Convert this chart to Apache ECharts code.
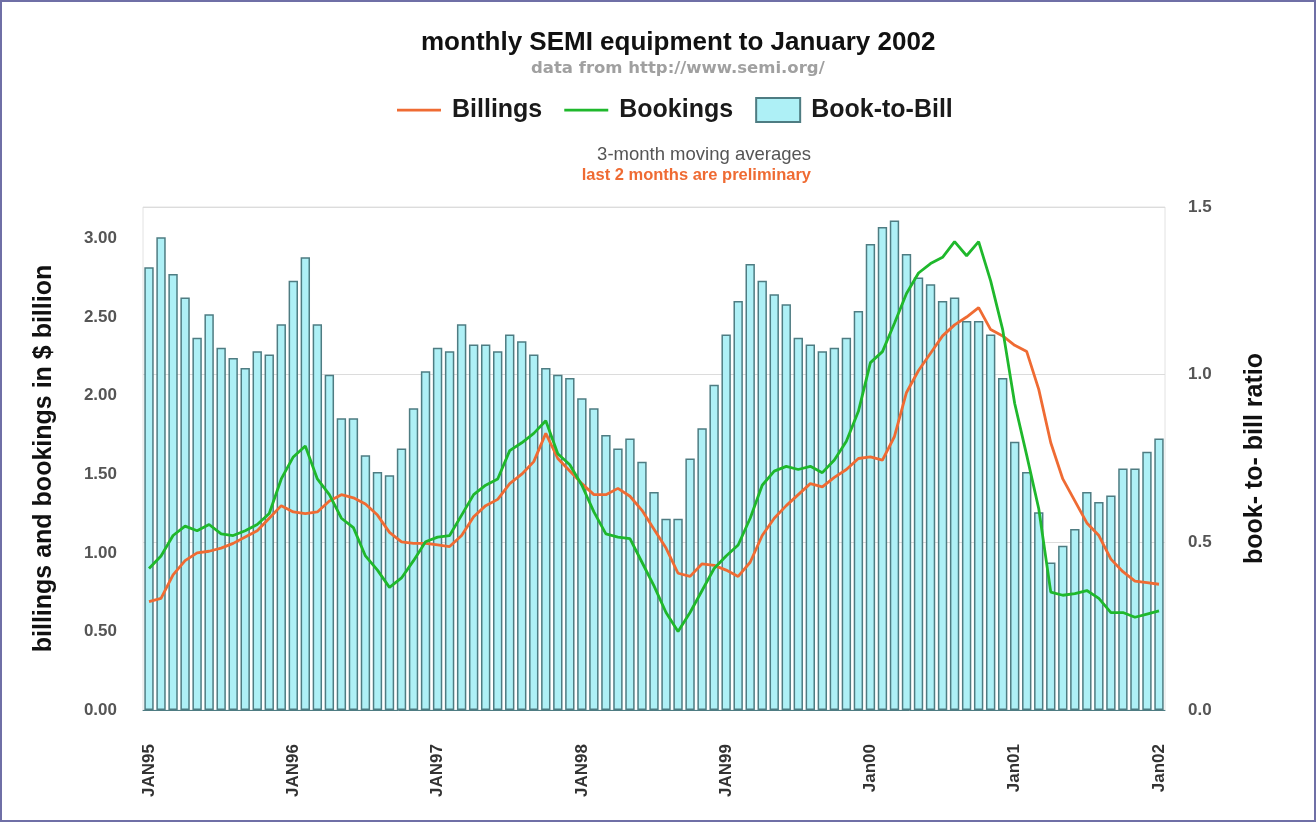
<!DOCTYPE html>
<html>
<head>
<meta charset="utf-8">
<title>monthly SEMI equipment</title>
<script src="https://cdn.jsdelivr.net/npm/echarts/dist/echarts.min.js"></script>
<style>
    html, body {
        margin: 0;
        padding: 0;
        background: #fff;
    }
    #chart {
        width: 1316px;
        height: 822px;
        box-sizing: border-box;
        border: 2px solid #6f6fa6;
    }
</style>
</head>
<body>
<div id="chart"></div>
<script>
// ========================================
// data (3-month moving averages, JAN95 .. Jan02)
// ========================================

const tickLabels = ["JAN95", "JAN96", "JAN97", "JAN98", "JAN99", "Jan00", "Jan01", "Jan02"];

// $ billion
const billings = [
    0.69, 0.71, 0.86, 0.95, 1.00, 1.01, 1.03, 1.06, 1.10, 1.14, 1.22, 1.30,
    1.26, 1.25, 1.26, 1.33, 1.37, 1.35, 1.31, 1.24, 1.13, 1.07, 1.06, 1.06,
    1.05, 1.04, 1.11, 1.23, 1.30, 1.34, 1.44, 1.50, 1.58, 1.76, 1.60, 1.52,
    1.44, 1.37, 1.37, 1.41, 1.36, 1.27, 1.15, 1.03, 0.87, 0.85, 0.93, 0.92,
    0.89, 0.85, 0.94, 1.11, 1.22, 1.30, 1.37, 1.44, 1.42, 1.48, 1.53, 1.60,
    1.61, 1.59, 1.74, 2.02, 2.16, 2.27, 2.38, 2.45, 2.50, 2.56, 2.42, 2.38,
    2.32, 2.28, 2.04, 1.70, 1.47, 1.33, 1.19, 1.11, 0.96, 0.88, 0.82, 0.81,
    0.80
];

const bookings = [
    0.90, 0.98, 1.11, 1.17, 1.14, 1.18, 1.12, 1.11, 1.14, 1.18, 1.25, 1.47,
    1.61, 1.68, 1.47, 1.37, 1.22, 1.16, 0.98, 0.89, 0.78, 0.84, 0.95, 1.07,
    1.10, 1.11, 1.24, 1.37, 1.43, 1.47, 1.65, 1.70, 1.76, 1.84, 1.63, 1.56,
    1.43, 1.26, 1.12, 1.10, 1.09, 0.94, 0.79, 0.62, 0.50, 0.62, 0.76, 0.90,
    0.98, 1.05, 1.22, 1.43, 1.52, 1.55, 1.53, 1.55, 1.51, 1.59, 1.71, 1.90,
    2.21, 2.28, 2.46, 2.65, 2.78, 2.84, 2.88, 2.98, 2.89, 2.98, 2.73, 2.42,
    1.95, 1.62, 1.28, 0.75, 0.73, 0.74, 0.76, 0.71, 0.62, 0.62, 0.59, 0.61,
    0.63
];

// ratio
const bookToBill = [
    1.32, 1.41, 1.30, 1.23, 1.11, 1.18, 1.08, 1.05, 1.02, 1.07, 1.06, 1.15,
    1.28, 1.35, 1.15, 1.00, 0.87, 0.87, 0.76, 0.71, 0.70, 0.78, 0.90, 1.01,
    1.08, 1.07, 1.15, 1.09, 1.09, 1.07, 1.12, 1.10, 1.06, 1.02, 1.00, 0.99,
    0.93, 0.90, 0.82, 0.78, 0.81, 0.74, 0.65, 0.57, 0.57, 0.75, 0.84, 0.97,
    1.12, 1.22, 1.33, 1.28, 1.24, 1.21, 1.11, 1.09, 1.07, 1.08, 1.11, 1.19,
    1.39, 1.44, 1.46, 1.36, 1.29, 1.27, 1.22, 1.23, 1.16, 1.16, 1.12, 0.99,
    0.80, 0.71, 0.59, 0.44, 0.49, 0.54, 0.65, 0.62, 0.64, 0.72, 0.72, 0.77,
    0.81
];

// ========================================
// month categories (label only on January)
// ========================================

function buildMonths() {
    let out = [];
    for (let i = 0; i < bookToBill.length; i++) {
        if (i % 12 === 0) {
            out.push(tickLabels[i / 12]);
        } else {
            let y = 1995 + Math.floor(i / 12);
            out.push(y + "-" + (i % 12 + 1));
        }
    }
    return out;
}

const months = buildMonths();

const narrow = '"Liberation Sans Narrow", "Liberation Sans", Arial, sans-serif';
const sans = '"Liberation Sans", Arial, sans-serif';

// thin horizontal stroke for the line legend (tiny corner dots keep the box size)
const lineIcon = "path://M0,0h0.01v0.01h-0.01z M0,10.8h44v2.6h-44z M43.99,24h0.01v0.01h-0.01z";

// ========================================
// chart
// ========================================

const chart = echarts.init(document.getElementById("chart"));

chart.setOption({
    animation: false,
    backgroundColor: "#fff",
    title: [{
        text: "monthly SEMI equipment to January 2002",
        left: 414,
        top: 23,
        textStyle: { fontFamily: sans, fontSize: 26, fontWeight: "bold", color: "#111" }
    }, {
        text: "data from http://www.semi.org/",
        left: 524,
        top: 53,
        textStyle: { fontFamily: '"DejaVu Sans", sans-serif', fontSize: 16.5, fontWeight: "bold", color: "#a0a0a0" }
    }, {
        text: "3-month moving averages",
        right: 498,
        top: 138,
        textStyle: { fontFamily: sans, fontSize: 18.5, fontWeight: "normal", color: "#555" }
    }, {
        text: "last 2 months are preliminary",
        right: 498,
        top: 160,
        textStyle: { fontFamily: sans, fontSize: 16.5, fontWeight: "bold", color: "#ef6b33" }
    }],
    legend: {
        left: 390,
        top: 90,
        itemGap: 22,
        itemWidth: 44,
        itemHeight: 24,
        textStyle: {
            fontFamily: sans,
            fontSize: 25,
            fontWeight: "bold",
            color: "#1a1a1a",
            padding: [0, 0, 0, 6]
        },
        data: [
            { name: "Billings", icon: lineIcon },
            { name: "Bookings", icon: lineIcon },
            { name: "Book-to-Bill", icon: "rect" }
        ]
    },
    grid: {
        left: 141,
        right: 149,
        top: 205,
        bottom: 110,
        show: true,
        borderColor: "#e2e2e2",
        borderWidth: 1
    },
    xAxis: {
        type: "category",
        data: months,
        boundaryGap: true,
        axisLine: { lineStyle: { color: "#4e7c82" } },
        axisTick: { show: false },
        axisLabel: {
            interval: (i) => i % 12 === 0,
            rotate: 90,
            margin: 34,
            fontFamily: narrow,
            fontSize: 17,
            fontWeight: "bold",
            color: "#333"
        }
    },
    yAxis: [{
        type: "value",
        min: 0,
        max: 3.2,
        interval: 0.5,
        name: "billings and bookings in $ billion",
        nameLocation: "middle",
        nameGap: 86,
        nameTextStyle: { fontFamily: sans, fontSize: 25, fontWeight: "bold", color: "#111" },
        axisLine: { show: false },
        axisTick: { show: false },
        splitLine: { show: false },
        axisLabel: {
            showMaxLabel: false,
            margin: 26,
            fontFamily: narrow,
            fontSize: 17,
            fontWeight: "bold",
            color: "#555",
            formatter: (v) => v.toFixed(2)
        }
    }, {
        type: "value",
        min: 0,
        max: 1.5,
        interval: 0.5,
        name: "book- to- bill ratio",
        nameLocation: "middle",
        nameGap: 78,
        nameRotate: 90,
        nameTextStyle: { fontFamily: sans, fontSize: 25, fontWeight: "bold", color: "#111" },
        axisLine: { show: false },
        axisTick: { show: false },
        splitLine: { show: true, lineStyle: { color: "#dcdcdc" } },
        axisLabel: {
            margin: 23,
            fontFamily: narrow,
            fontSize: 17,
            fontWeight: "bold",
            color: "#555",
            formatter: (v) => v.toFixed(1)
        }
    }],
    series: [{
        name: "Book-to-Bill",
        type: "bar",
        yAxisIndex: 1,
        barCategoryGap: "22%",
        data: bookToBill,
        itemStyle: { color: "#aef0f6", borderColor: "#4e7c82", borderWidth: 1.5 }
    }, {
        name: "Billings",
        type: "line",
        yAxisIndex: 0,
        data: billings,
        symbol: "none",
        lineStyle: { color: "#ef6b33", width: 2.8 },
        itemStyle: { color: "#ef6b33" }
    }, {
        name: "Bookings",
        type: "line",
        yAxisIndex: 0,
        data: bookings,
        symbol: "none",
        lineStyle: { color: "#1fb82c", width: 2.8 },
        itemStyle: { color: "#1fb82c" }
    }]
});
</script>
</body>
</html>
